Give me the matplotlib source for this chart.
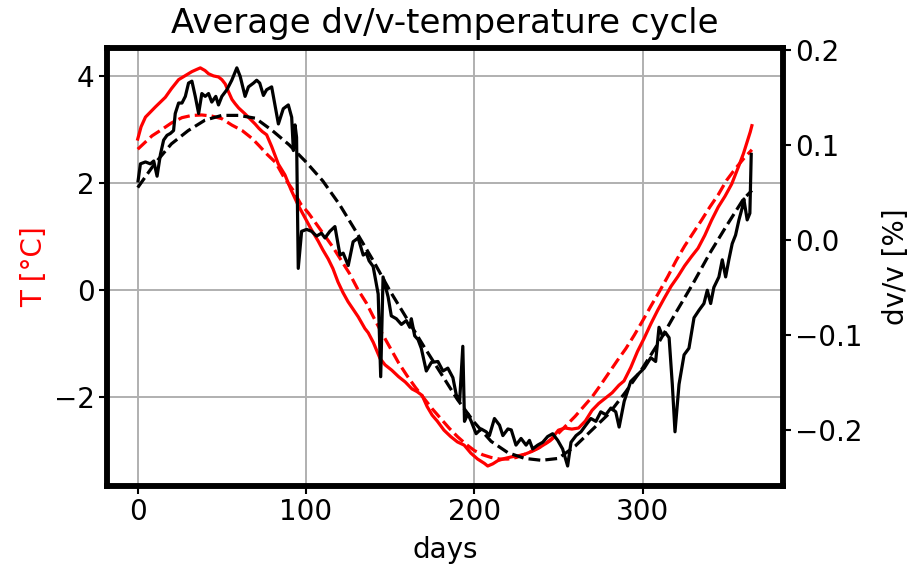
import matplotlib.pyplot as plt

# temperature (left axis)
t_days = [0, 2, 4.6, 10.5, 16.4, 20, 24.3, 28, 32.2, 35, 37.2, 40, 42.1, 45, 48, 50, 52, 54, 56, 57.9,
          60, 63.8, 66, 69.8, 72, 74, 76.6, 79.6, 83.6, 87.5, 91, 95.4, 99.4, 103, 107.3, 110, 113.2, 116,
          119, 122, 125, 128, 131, 135, 137, 140, 144, 147, 151, 155, 159, 163, 166, 169, 172, 175, 178,
          182, 186, 190, 194, 198, 202, 206, 208, 211, 214, 218, 222, 226, 230, 234, 238, 242, 246, 250,
          254, 258, 262, 266, 270, 274, 278, 282, 286, 289, 293, 297, 301, 305, 309, 313, 317, 321, 325,
          329, 333, 337, 341, 345, 349, 353, 357, 360, 362, 364, 365]
temp = [2.82, 3.05, 3.23, 3.42, 3.60, 3.76, 3.93, 4.00, 4.08, 4.12, 4.15, 4.10, 4.04, 4.00, 3.98, 3.93,
        3.85, 3.70, 3.56, 3.48, 3.40, 3.29, 3.22, 3.10, 3.02, 2.96, 2.90, 2.68, 2.35, 2.15, 1.88, 1.58,
        1.35, 1.14, 0.91, 0.75, 0.58, 0.40, 0.15, -0.05, -0.22, -0.36, -0.50, -0.72, -0.80, -0.98, -1.28,
        -1.40, -1.50, -1.62, -1.72, -1.85, -1.90, -1.97, -2.18, -2.34, -2.45, -2.62, -2.74, -2.84, -2.90,
        -3.05, -3.16, -3.24, -3.29, -3.25, -3.19, -3.15, -3.12, -3.10, -3.07, -3.02, -2.96, -2.88, -2.78,
        -2.62, -2.58, -2.60, -2.58, -2.45, -2.25, -2.12, -2.02, -1.92, -1.78, -1.70, -1.45, -1.15, -0.90,
        -0.63, -0.38, -0.15, 0.07, 0.25, 0.45, 0.62, 0.78, 1.02, 1.30, 1.55, 1.75, 1.98, 2.30, 2.55, 2.75,
        2.95, 3.07]

# temperature fit
tfit_days = [0, 8.5, 14.4, 20, 26.3, 32, 38, 44, 50, 56, 62, 68, 72, 77, 82, 87, 92, 97, 101.4, 106, 111,
             116, 121, 126, 131, 136, 140, 145, 150, 155, 160, 165, 170, 175, 180, 185, 190, 195, 200, 205,
             210, 215, 220, 225, 230, 235, 240, 245, 250, 255, 260, 265, 270, 275, 280, 285, 290, 295, 300,
             305, 310, 315, 320, 325, 330, 335, 340, 345, 350, 355, 360, 365]
temp_fit = [2.63, 2.88, 3.00, 3.12, 3.22, 3.26, 3.27, 3.25, 3.20, 3.08, 2.98, 2.83, 2.70, 2.53, 2.38, 2.10,
            1.88, 1.60, 1.44, 1.24, 1.02, 0.80, 0.55, 0.30, 0.0, -0.25, -0.50, -0.80, -1.08, -1.36, -1.60,
            -1.82, -2.02, -2.22, -2.40, -2.58, -2.74, -2.88, -3.00, -3.08, -3.13, -3.16, -3.16, -3.13, -3.07,
            -3.00, -2.92, -2.82, -2.68, -2.52, -2.36, -2.18, -2.00, -1.78, -1.55, -1.32, -1.10, -0.85, -0.58,
            -0.30, -0.03, 0.25, 0.55, 0.82, 1.06, 1.30, 1.55, 1.78, 2.05, 2.26, 2.45, 2.62]

# dv/v (right axis)
dv_days = [0.2, 1.6, 4.6, 7.5, 9.5, 11.5, 13.5, 15.4, 17.4, 19.4, 21.3, 22.3, 24.3, 26.3, 28.3, 30.2, 32.2,
           34.2, 36.2, 38.1, 40.1, 42.1, 44, 46.4, 48, 50, 53, 55.9, 58.9, 60.9, 63.8, 65.8, 68.8, 70.7,
           72.5, 74.7, 76.6, 79.6, 83.6, 86.5, 89.5, 91.5, 92.5, 93.5, 94.4, 95.4, 97.4, 100.4, 103.3, 106.3,
           109.2, 111.3, 114.2, 117.2, 120.2, 122.1, 125.1, 128, 131, 134, 135.9, 137.5, 139.9, 142.9, 144.4,
           145.8, 148.8, 150.7, 153.7, 156.7, 159.6, 161.7, 162.6, 164.6, 166.6, 168.5, 171.5, 174.5, 178.4,
           181.4, 184.3, 187.3, 189.3, 191.3, 193.2, 194.2, 196.2, 198.2, 201.1, 204.1, 207.1, 209, 212, 215,
           217, 220, 222, 224.8, 227.8, 230.8, 232.8, 234.7, 237.7, 240.7, 243.6, 246.6, 249.6, 252.5, 255.5,
           257.5, 260.5, 263.4, 266.3, 269.3, 272.3, 275.2, 278.2, 281.2, 284.1, 286.1, 289.1, 293, 297, 301,
           304.9, 307.8, 309.8, 311.8, 313.8, 315.8, 317.7, 319.3, 321.7, 324.7, 327.6, 330.6, 333.6, 336.5,
           338.5, 340.5, 342.4, 345.4, 347.4, 349.4, 351.3, 353.3, 355.3, 357.3, 359.3, 360.2, 362.2, 363.8,
           364.6]
dvv = [0.062, 0.080, 0.082, 0.080, 0.083, 0.067, 0.090, 0.105, 0.110, 0.112, 0.115, 0.133, 0.144, 0.144,
       0.151, 0.165, 0.167, 0.151, 0.133, 0.154, 0.151, 0.154, 0.145, 0.151, 0.142, 0.151, 0.158, 0.168,
       0.181, 0.172, 0.151, 0.161, 0.165, 0.168, 0.165, 0.152, 0.158, 0.161, 0.122, 0.138, 0.142, 0.129,
       0.094, 0.121, 0.108, -0.030, 0.009, 0.011, 0.009, 0.004, 0.007, 0.002, 0.009, 0.014, -0.016, -0.014,
       -0.027, -0.002, 0.002, -0.016, -0.014, -0.022, -0.028, -0.057, -0.144, -0.039, -0.060, -0.080,
       -0.083, -0.089, -0.085, -0.092, -0.083, -0.101, -0.105, -0.114, -0.138, -0.129, -0.128, -0.138,
       -0.135, -0.145, -0.163, -0.170, -0.112, -0.191, -0.183, -0.191, -0.204, -0.199, -0.202, -0.206,
       -0.188, -0.195, -0.206, -0.199, -0.200, -0.216, -0.209, -0.216, -0.211, -0.220, -0.216, -0.213,
       -0.207, -0.204, -0.211, -0.220, -0.238, -0.213, -0.206, -0.202, -0.195, -0.188, -0.191, -0.181,
       -0.184, -0.177, -0.181, -0.197, -0.170, -0.149, -0.142, -0.135, -0.124, -0.128, -0.092, -0.101,
       -0.098, -0.103, -0.152, -0.202, -0.152, -0.121, -0.114, -0.082, -0.074, -0.067, -0.053, -0.067,
       -0.050, -0.039, -0.021, -0.039, -0.021, -0.004, 0.005, 0.021, 0.034, 0.043, 0.021, 0.028, 0.090]

# dv/v fit (dashed black curve)
dfit_days = [0, 10, 20, 30, 40, 50, 60, 70, 80, 90, 100, 110, 120, 130, 140, 150, 160, 170, 180, 190, 200,
             210, 220, 230, 240, 250, 260, 270, 280, 290, 300, 310, 320, 330, 340, 350, 360, 365]
dvv_fit = [0.055, 0.080, 0.101, 0.115, 0.126, 0.131, 0.131, 0.128, 0.115, 0.100, 0.082, 0.062, 0.037,
           0.008, -0.022, -0.054, -0.083, -0.112, -0.140, -0.168, -0.192, -0.212, -0.224, -0.230, -0.232,
           -0.230, -0.217, -0.200, -0.183, -0.160, -0.135, -0.107, -0.076, -0.046, -0.014, 0.015, 0.043,
           0.052]

plt.rcParams['font.size'] = 20

fig, ax = plt.subplots(figsize=(9.1, 5.71), dpi=100)
fig.subplots_adjust(left=0.1176, right=0.860, top=0.916, bottom=0.149)

ax.plot(t_days, temp, color='red', lw=2.3)
ax.plot(tfit_days, temp_fit, color='red', lw=2.3, ls='--')
ax.set_ylabel('T [°C]', color='red')
ax.set_xlabel('days', labelpad=7)
ax.grid(True, color='#b0b0b0', lw=1.4)
ax.set_xticks([0, 100, 200, 300])
ax.set_yticks([-2, 0, 2, 4])

ax2 = ax.twinx()
ax2.plot(dv_days, dvv, color='black', lw=2.3)
ax2.plot(dfit_days, dvv_fit, color='black', lw=2.3, ls='--')
ax2.set_ylabel('dv/v [%]', labelpad=14)
ax2.set_yticks([-0.2, -0.1, 0.0, 0.1, 0.2])

for a in (ax, ax2):
    for s in a.spines.values():
        s.set_linewidth(4)
    a.tick_params(width=1.5, length=5.5)

ax.set_title('Average dv/v-temperature cycle', fontsize=24.5, pad=11)

fig.savefig('out.png', dpi=100)
